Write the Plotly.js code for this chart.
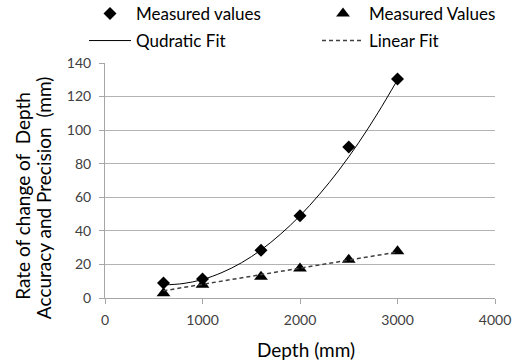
<!DOCTYPE html>
<html>
<head>
<meta charset="utf-8">
<script src="https://cdn.plot.ly/plotly-3.0.1.min.js"></script>
<style>html,body{margin:0;padding:0;background:#fff;}#chart{width:518px;height:364px;}</style>
</head>
<body>
<div id="chart"></div>
<script>
// Measured points
const depth = [600, 1000, 1600, 2000, 2500, 3000];
const quadMeasured = [8.9, 11.3, 28.4, 49, 90, 130.4];
const linMeasured = [2.8, 7.9, 12.6, 17.6, 22.8, 27.8];
// Fit curves
const quadFitX = [600, 800, 1000, 1200, 1400, 1600, 1800, 2000, 2200, 2400, 2600, 2800, 3000];
const quadFitY = [7.8, 8.6, 11, 15.2, 21, 28.6, 38, 49, 61.8, 76.2, 92.4, 110.4, 130];
const linFitX = [600, 3000];
const linFitY = [4.3, 27.4];
const xTicks = [0, 1000, 2000, 3000, 4000];
const yTicks = [0, 20, 40, 60, 80, 100, 120, 140];
const xTitle = 'Depth (mm)';
const yTitleLines = ['Rate of change of  Depth', 'Accuracy and Precision  (mm)'];

const font = "Lato, 'Open Sans', sans-serif";
const traces = [
  {x: depth, y: quadMeasured, mode: 'markers', name: 'Measured values',
   marker: {symbol: 'diamond', size: 10, color: '#000'}, legend: 'legend'},
  {x: depth, y: linMeasured, mode: 'markers', name: 'Measured Values',
   marker: {symbol: 'triangle-up', size: 12, color: '#000'}, legend: 'legend2'},
  {x: quadFitX, y: quadFitY, mode: 'lines', name: 'Qudratic Fit',
   line: {color: '#000', width: 1, shape: 'spline'}, legend: 'legend3'},
  {x: linFitX, y: linFitY, mode: 'lines', name: 'Linear Fit',
   line: {color: '#404040', width: 1.5, dash: '4px,3px'}, legend: 'legend4'}
];
const legBase = {xref: 'container', yref: 'container', xanchor: 'left', yanchor: 'middle',
  font: {family: font, size: 17, color: '#000'}, bgcolor: 'rgba(0,0,0,0)', itemwidth: 42};
const titleFont = {family: font, size: 19, color: '#000'};
const layout = {
  width: 518, height: 364,
  margin: {l: 105, r: 23, t: 63, b: 66, autoexpand: false},
  paper_bgcolor: '#fff', plot_bgcolor: '#fff',
  font: {family: font, color: '#000'},
  showlegend: true,
  legend: Object.assign({}, legBase, {x: 84/518, y: 1 - 14/364}),
  legend2: Object.assign({}, legBase, {x: 317/518, y: 1 - 14/364}),
  legend3: Object.assign({}, legBase, {x: 84/518, y: 1 - 41/364}),
  legend4: Object.assign({}, legBase, {x: 317/518, y: 1 - 41/364}),
  xaxis: {
    range: [0, 4000], tickvals: xTicks, ticktext: xTicks.map(String), tickangle: 0,
    showgrid: false, zeroline: false, showline: true, linecolor: '#a6a6a6', linewidth: 1,
    ticks: 'outside', ticklen: 5, tickcolor: '#a6a6a6', automargin: false, ticklabelstandoff: 4,
    tickfont: {family: font, size: 14, color: '#404040'}
  },
  yaxis: {
    range: [0, 140], tickvals: yTicks, ticktext: yTicks.map(String), automargin: false,
    showgrid: true, gridcolor: '#b3b3b3', gridwidth: 1, zeroline: false,
    showline: true, linecolor: '#a6a6a6', linewidth: 1, ticklabelstandoff: 5,
    ticks: 'outside', ticklen: 5, tickcolor: '#a6a6a6',
    tickfont: {family: font, size: 14, color: '#404040'}
  },
  annotations: [
    {text: yTitleLines[0], textangle: -90, showarrow: false,
     xref: 'paper', yref: 'paper', x: -(105 - 23) / 390, y: 0.435,
     xanchor: 'center', yanchor: 'middle', font: titleFont},
    {text: yTitleLines[1], textangle: -90, showarrow: false,
     xref: 'paper', yref: 'paper', x: -(105 - 43) / 390, y: 0.425,
     xanchor: 'center', yanchor: 'middle', font: titleFont},
    {text: xTitle, showarrow: false,
     xref: 'paper', yref: 'paper', x: (306 - 105) / 390, y: -(349 - 298) / 235,
     xanchor: 'center', yanchor: 'middle', font: titleFont}
  ]
};
Plotly.newPlot('chart', traces, layout, {displayModeBar: false, staticPlot: true});
</script>
</body>
</html>
